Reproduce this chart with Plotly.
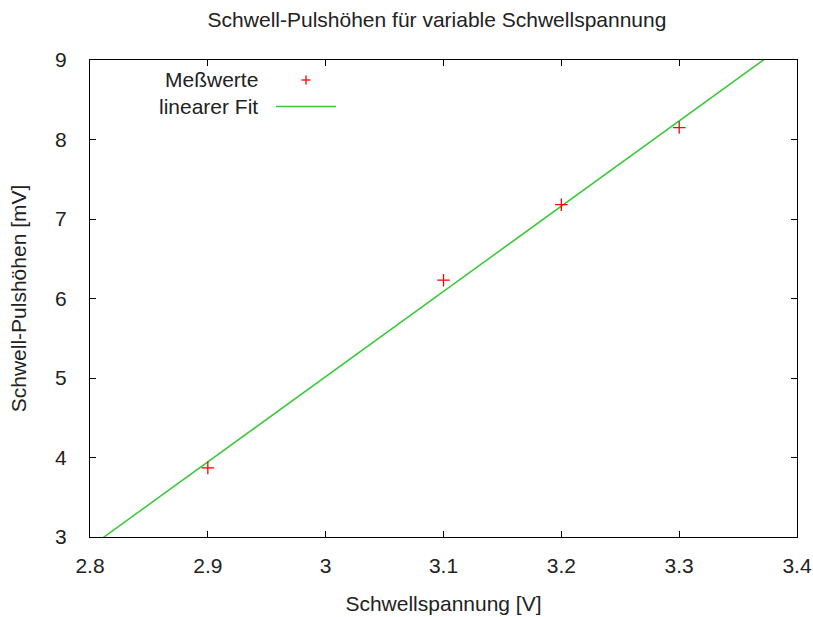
import numpy as np
import plotly.graph_objects as go

# Data
spannung = [2.9, 3.1, 3.2, 3.3]            # Schwellspannung [V]
pulshoehe = [3.87, 6.23, 7.18, 8.15]        # Schwell-Pulshöhen [mV]
x_ticks = [2.8, 2.9, 3.0, 3.1, 3.2, 3.3, 3.4]
y_ticks = [3, 4, 5, 6, 7, 8, 9]

# linear fit of the measured values
slope, intercept = np.polyfit(spannung, pulshoehe, 1)
fit_x = np.linspace(2.8, 3.4, 200)
fit_y = slope * fit_x + intercept

FONT = "Liberation Sans, Arial, Helvetica, sans-serif"
GREEN = "#36c836"
TXT = "#222222"
FS = 21

L, R, T, B = 90, 16, 60, 80
PW, PH = 813 - L - R, 617 - T - B


def px(xp):
    return (xp - L) / PW


def py(yp):
    return 1 - (yp - T) / PH


fig = go.Figure()
fig.add_trace(go.Scatter(
    x=fit_x, y=fit_y, mode="lines", name="linearer Fit",
    line=dict(color=GREEN, width=1.5), showlegend=False))
fig.add_trace(go.Scatter(
    x=spannung, y=pulshoehe, mode="markers", name="Meßwerte",
    marker=dict(symbol="cross-thin", size=9, line=dict(color="red", width=1.3), color="red"),
    showlegend=False))

axis_common = dict(
    showgrid=False, zeroline=False, showline=True, linecolor="black", linewidth=1,
    mirror="ticks", ticks="inside", ticklen=6, tickcolor="black", tickwidth=1,
    tickfont=dict(family=FONT, size=FS, color=TXT), automargin=False,
)

fig.update_layout(
    width=813, height=617,
    margin=dict(l=L, r=R, t=T, b=B),
    paper_bgcolor="white", plot_bgcolor="white",
    font=dict(family=FONT, size=FS, color=TXT),
    title=dict(text="Schwell-Pulshöhen für variable Schwellspannung",
               x=(437 - L) / PW * PW / 813 + L / 813, xanchor="center", y=1 - 20 / 617, yanchor="middle",
               font=dict(family=FONT, size=FS, color=TXT)),
    xaxis=dict(range=[2.8, 3.4], tickvals=x_ticks, ticktext=[f"{v:g}" for v in x_ticks],
               title=dict(text="Schwellspannung [V]", standoff=20,
                          font=dict(family=FONT, size=FS, color=TXT)),
               ticklabelstandoff=10, **axis_common),
    yaxis=dict(range=[3, 9], tickvals=y_ticks, ticktext=[str(v) for v in y_ticks],
               title=dict(text="Schwell-Pulshöhen [mV]", standoff=22,
                          font=dict(family=FONT, size=FS, color=TXT)),
               ticklabelstandoff=18, **axis_common),
    showlegend=False,
)

# gnuplot-style key: text on the left, sample on the right
fig.add_annotation(xref="paper", yref="paper", x=px(260), y=py(80),
                   text="Meßwerte", showarrow=False, xanchor="right", yanchor="middle",
                   font=dict(family=FONT, size=FS, color=TXT))
fig.add_annotation(xref="paper", yref="paper", x=px(260), y=py(106),
                   text="linearer Fit", showarrow=False, xanchor="right", yanchor="middle",
                   font=dict(family=FONT, size=FS, color=TXT))
# key sample: red plus
fig.add_shape(type="line", xref="paper", yref="paper",
              x0=px(301.5), x1=px(310.5), y0=py(80), y1=py(80),
              line=dict(color="red", width=1.3))
fig.add_shape(type="line", xref="paper", yref="paper",
              x0=px(306), x1=px(306), y0=py(75.5), y1=py(84.5),
              line=dict(color="red", width=1.3))
# key sample: green line
fig.add_shape(type="line", xref="paper", yref="paper",
              x0=px(276), x1=px(336), y0=py(106.5), y1=py(106.5),
              line=dict(color=GREEN, width=1.5))

fig.write_html("out.html")
